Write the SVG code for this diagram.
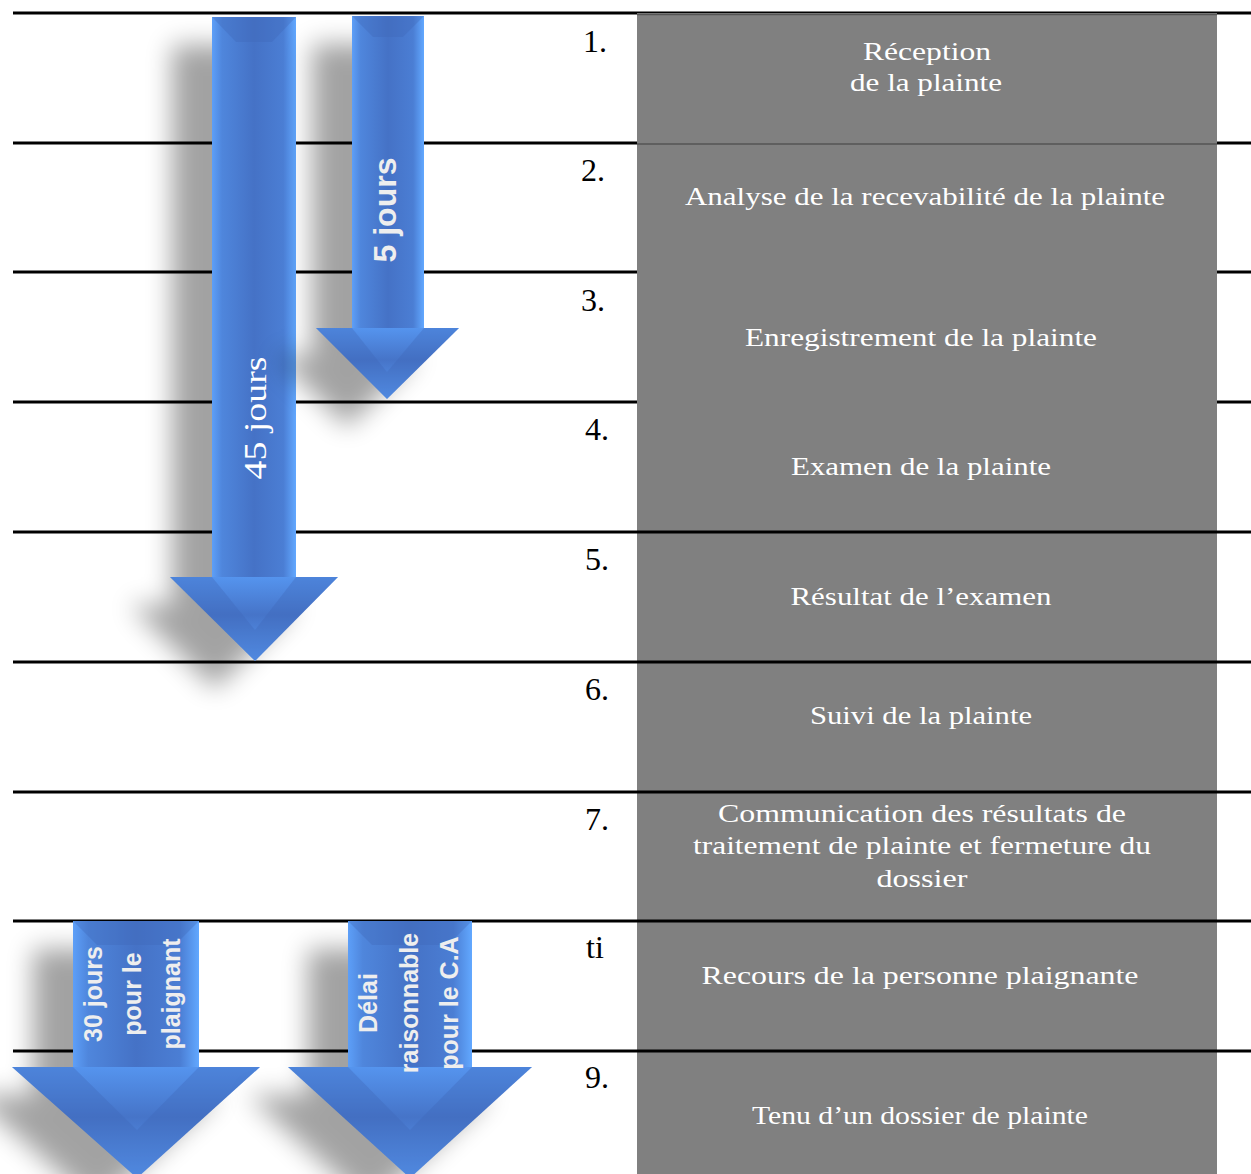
<svg xmlns="http://www.w3.org/2000/svg" width="1251" height="1174" viewBox="0 0 1251 1174">
<defs>
<style>
.rule{stroke:#000;stroke-width:3;fill:none}
.num{font-family:"Liberation Serif","Times New Roman",serif;font-size:32px;fill:#000}
.step{font-family:"Liberation Serif","Times New Roman",serif;font-size:25px;fill:#fff;text-anchor:middle}
.lbl45{font-family:"Liberation Serif","Times New Roman",serif;font-size:32px;fill:#fff;text-anchor:middle}
.lblb{font-family:"Liberation Sans",Arial,sans-serif;font-weight:bold;fill:#eeeeee;text-anchor:middle}
.shadow{fill:#000;opacity:0.36;filter:url(#blur)}
.bevel{fill:#3f68b8;opacity:0.35}
</style>
<linearGradient id="bodyGrad" x1="0" y1="0" x2="1" y2="0">
<stop offset="0" stop-color="#5d9ff8"/>
<stop offset="0.12" stop-color="#4f86dc"/>
<stop offset="0.5" stop-color="#4572c6"/>
<stop offset="0.85" stop-color="#4b7ed4"/>
<stop offset="1" stop-color="#62a8ff"/>
</linearGradient>
<linearGradient id="headGrad" x1="0" y1="0" x2="0" y2="1">
<stop offset="0" stop-color="#5594ee"/>
<stop offset="0.45" stop-color="#4674c8"/>
<stop offset="1" stop-color="#5a9cf6"/>
</linearGradient>
<filter id="blur" x="-60%" y="-30%" width="220%" height="160%">
<feGaussianBlur stdDeviation="13"/>
</filter>
</defs>
<rect x="0" y="0" width="1251" height="1174" fill="#fff"/>

<g id="rules-under">
<line class="rule" x1="13" y1="13" x2="1251" y2="13"/>
<line class="rule" x1="13" y1="143" x2="1251" y2="143"/>
<line class="rule" x1="13" y1="272" x2="1251" y2="272"/>
<line class="rule" x1="13" y1="402" x2="1251" y2="402"/>
</g>

<g id="panel">
<rect x="637" y="13" width="580" height="1161" fill="#808080"/>
<line x1="637" y1="14.5" x2="1217" y2="14.5" stroke="#555" stroke-width="1.5"/>
<line x1="637" y1="144" x2="1217" y2="144" stroke="#555" stroke-width="1.5"/>
</g>

<g id="rules-over">
<line class="rule" x1="13" y1="532" x2="1251" y2="532"/>
<line class="rule" x1="13" y1="662" x2="1251" y2="662"/>
<line class="rule" x1="13" y1="792" x2="1251" y2="792"/>
<line class="rule" x1="13" y1="921" x2="1251" y2="921"/>
<line class="rule" x1="13" y1="1051" x2="1251" y2="1051"/>
</g>

<g id="numbers">
<text class="num" x="583" y="52">1.</text>
<text class="num" x="581" y="181">2.</text>
<text class="num" x="581" y="311">3.</text>
<text class="num" x="585" y="440">4.</text>
<text class="num" x="585" y="570">5.</text>
<text class="num" x="585" y="700">6.</text>
<text class="num" x="585" y="830">7.</text>
<text class="num" x="586" y="958">ti</text>
<text class="num" x="585" y="1088">9.</text>
</g>

<g id="step1"><text class="step" x="927" y="60" textLength="128" lengthAdjust="spacingAndGlyphs">Réception</text><text class="step" x="926" y="91" textLength="152" lengthAdjust="spacingAndGlyphs">de la plainte</text></g>
<g id="step2"><text class="step" x="925" y="205" textLength="480" lengthAdjust="spacingAndGlyphs">Analyse de la recevabilité de la plainte</text></g>
<g id="step3"><text class="step" x="921" y="346" textLength="352" lengthAdjust="spacingAndGlyphs">Enregistrement de la plainte</text></g>
<g id="step4"><text class="step" x="921" y="475" textLength="260" lengthAdjust="spacingAndGlyphs">Examen de la plainte</text></g>
<g id="step5"><text class="step" x="921" y="605" textLength="261" lengthAdjust="spacingAndGlyphs">Résultat de l’examen</text></g>
<g id="step6"><text class="step" x="921" y="724" textLength="222" lengthAdjust="spacingAndGlyphs">Suivi de la plainte</text></g>
<g id="step7"><text class="step" x="922" y="822" textLength="408" lengthAdjust="spacingAndGlyphs">Communication des résultats de</text><text class="step" x="922" y="854" textLength="458" lengthAdjust="spacingAndGlyphs">traitement de plainte et fermeture du</text><text class="step" x="922" y="887" textLength="91" lengthAdjust="spacingAndGlyphs">dossier</text></g>
<g id="step8"><text class="step" x="920" y="984" textLength="437" lengthAdjust="spacingAndGlyphs">Recours de la personne plaignante</text></g>
<g id="step9"><text class="step" x="920" y="1124" textLength="336" lengthAdjust="spacingAndGlyphs">Tenu d’un dossier de plainte</text></g>

<g id="arrow-45">
<path class="shadow" transform="translate(-40,28)" d="M212,17 L296,17 L296,577 L338,577 L255,661 L170,577 L212,577 Z"/>
<rect x="212" y="17" width="84" height="561" fill="url(#bodyGrad)"/>
<path d="M170,577 L338,577 L255,661 Z" fill="url(#headGrad)"/>
<path class="bevel" d="M212,17 L296,17 L272,42 L236,42 Z"/>
<path class="bevel" d="M212,577 L170,577 L255,661 L255,630 Z"/>
<path class="bevel" d="M296,577 L338,577 L255,661 L255,630 Z" opacity="0.2"/>
<text class="lbl45" transform="translate(266,418) rotate(-90)" textLength="123" lengthAdjust="spacingAndGlyphs">45 jours</text>
</g>

<g id="arrow-5">
<path class="shadow" transform="translate(-40,28)" d="M352,16 L424,16 L424,328 L459,328 L387,399 L316,328 L352,328 Z"/>
<rect x="352" y="16" width="72" height="313" fill="url(#bodyGrad)"/>
<path d="M316,328 L459,328 L387,399 Z" fill="url(#headGrad)"/>
<path class="bevel" d="M352,16 L424,16 L403,37 L373,37 Z"/>
<path class="bevel" d="M352,328 L316,328 L387,399 L387,372 Z"/>
<path class="bevel" d="M424,328 L459,328 L387,399 L387,372 Z" opacity="0.2"/>
<text class="lblb" font-size="31" transform="translate(396,210) rotate(-90)" textLength="105" lengthAdjust="spacingAndGlyphs">5 jours</text>
</g>

<g id="arrow-30">
<path class="shadow" transform="translate(-40,28)" d="M73,921 L199,921 L199,1067 L260,1067 L137,1178 L12,1067 L73,1067 Z"/>
<rect x="73" y="921" width="126" height="147" fill="url(#bodyGrad)"/>
<path d="M12,1067 L260,1067 L137,1178 Z" fill="url(#headGrad)"/>
<path class="bevel" d="M73,921 L199,921 L175,945 L97,945 Z"/>
<path class="bevel" d="M73,1067 L12,1067 L137,1178 L137,1130 Z"/>
<path class="bevel" d="M199,1067 L260,1067 L137,1178 L137,1130 Z" opacity="0.2"/>
<text class="lblb" font-size="25" transform="translate(102,994) rotate(-90)">30 jours</text>
<text class="lblb" font-size="25" transform="translate(141,994) rotate(-90)">pour le</text>
<text class="lblb" font-size="25" transform="translate(180,994) rotate(-90)">plaignant</text>
</g>

<g id="arrow-delai">
<path class="shadow" transform="translate(-40,28)" d="M348,921 L472,921 L472,1067 L532,1067 L410,1178 L288,1067 L348,1067 Z"/>
<rect x="348" y="921" width="124" height="147" fill="url(#bodyGrad)"/>
<path d="M288,1067 L532,1067 L410,1178 Z" fill="url(#headGrad)"/>
<path class="bevel" d="M348,921 L472,921 L448,945 L372,945 Z"/>
<path class="bevel" d="M348,1067 L288,1067 L410,1178 L410,1130 Z"/>
<path class="bevel" d="M472,1067 L532,1067 L410,1178 L410,1130 Z" opacity="0.2"/>
<text class="lblb" font-size="25" transform="translate(377,1003) rotate(-90)">Délai</text>
<text class="lblb" font-size="25" transform="translate(418,1003) rotate(-90)">raisonnable</text>
<text class="lblb" font-size="25" transform="translate(458,1003) rotate(-90)">pour le C.A</text>
</g>
</svg>
